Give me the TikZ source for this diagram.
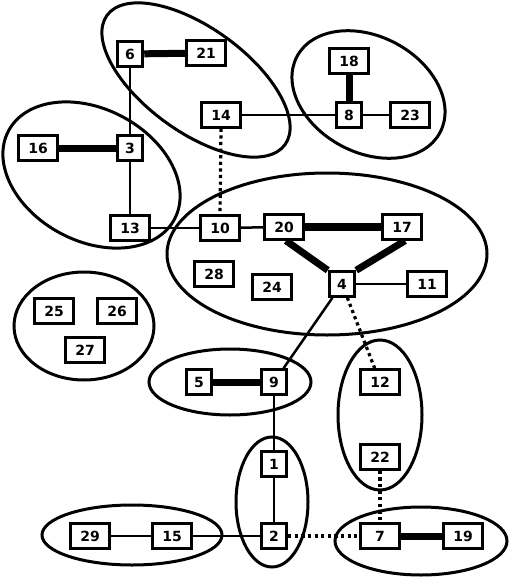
\documentclass[tikz,border=0pt]{standalone}
\usepackage{fontspec}
\setmainfont{DejaVu Sans}
\begin{document}
\begin{tikzpicture}[x=1pt,y=-1pt,
  box/.style={draw,line width=3pt,fill=white,inner sep=0pt,minimum height=24.5pt,font=\fontsize{14}{14}\selectfont\bfseries},
  sbox/.style={box,minimum width=25.5pt},
  dbox/.style={box,minimum width=38.5pt},
  grp/.style={line width=3pt},
  thin/.style={line width=2.5pt},
  thick/.style={line width=7pt},
  dots/.style={line width=3.2pt,dash pattern=on 3.2pt off 3.4pt}]
\useasboundingbox (0,0) rectangle (510,578);
% groups
\draw[grp,rotate around={-36:(196,80)}] (196,80) ellipse (110 and 52);
\draw[grp,rotate around={-28:(91.5,175)}] (91.5,175) ellipse (94 and 66);
\draw[grp,rotate around={-28:(368.5,94.5)}] (368.5,94.5) ellipse (81 and 58);
\draw[grp] (327,254) ellipse (160 and 81);
\draw[grp] (84,326) ellipse (70 and 54);
\draw[grp] (230,382) ellipse (81 and 33);
\draw[grp] (380,415) ellipse (42 and 75);
\draw[grp] (272,502) ellipse (36 and 65);
\draw[grp] (132,535) ellipse (90 and 30);
\draw[grp] (421,541) ellipse (86 and 34);
% nodes
\node[sbox] (n6) at (130,54) {6};
\node[dbox] (n21) at (206,53) {21};
\node[dbox] (n14) at (221,115) {14};
\node[dbox] (n16) at (38,148) {16};
\node[sbox] (n3) at (130,148) {3};
\node[dbox] (n13) at (130,228) {13};
\node[dbox] (n10) at (220,228) {10};
\node[dbox] (n18) at (349,61) {18};
\node[sbox] (n8) at (349,115) {8};
\node[dbox] (n23) at (410,115) {23};
\node[dbox] (n20) at (284,227) {20};
\node[dbox] (n17) at (402,227) {17};
\node[sbox] (n4) at (342,284) {4};
\node[dbox] (n11) at (427,284) {11};
\node[dbox] (n24) at (272,287) {24};
\node[dbox] (n28) at (214,274) {28};
\node[dbox] (n25) at (54,311) {25};
\node[dbox] (n26) at (117,311) {26};
\node[dbox] (n27) at (85,350) {27};
\node[sbox] (n5) at (199,382) {5};
\node[sbox] (n9) at (274,382) {9};
\node[dbox] (n12) at (380,382) {12};
\node[dbox] (n22) at (380,457) {22};
\node[sbox] (n1) at (274,464) {1};
\node[sbox] (n2) at (274,536) {2};
\node[dbox] (n7) at (380,536) {7};
\node[dbox] (n19) at (463,536) {19};
\node[dbox] (n29) at (90,536) {29};
\node[dbox] (n15) at (172,536) {15};
% edges
\draw[thick] (n6) -- (n21);
\draw[thin] (n6) -- (n3);
\draw[thick] (n16) -- (n3);
\draw[thin] (n3) -- (n13);
\draw[thin] (n13) -- (n10);
\draw[dots] (n14.south) -- (n10.north);
\draw[thin] (n14) -- (n8);
\draw[thick] (n18) -- (n8);
\draw[thin] (n8) -- (n23);
\draw[thin] (n10) -- (n20);
\draw[line width=8pt] (n20) -- (n17);
\draw[thick] ([xshift=2pt]n20.south) -- (n4.north west);
\draw[thick] ([xshift=3pt]n17.south) -- (n4.north east);
\draw[thin] (n4) -- (n11);
\draw[thin] (n4) -- (n9);
\draw[dots] (n4) -- (n12);
\draw[thick] (n5) -- (n9);
\draw[thin] (n9) -- (n1);
\draw[thin] (n1) -- (n2);
\draw[thin] (n2) -- (n15);
\draw[thin] (n29) -- (n15);
\draw[dots] (n2) -- (n7);
\draw[dots] (n22) -- (n7);
\draw[thick] (n7) -- (n19);
\end{tikzpicture}
\end{document}
